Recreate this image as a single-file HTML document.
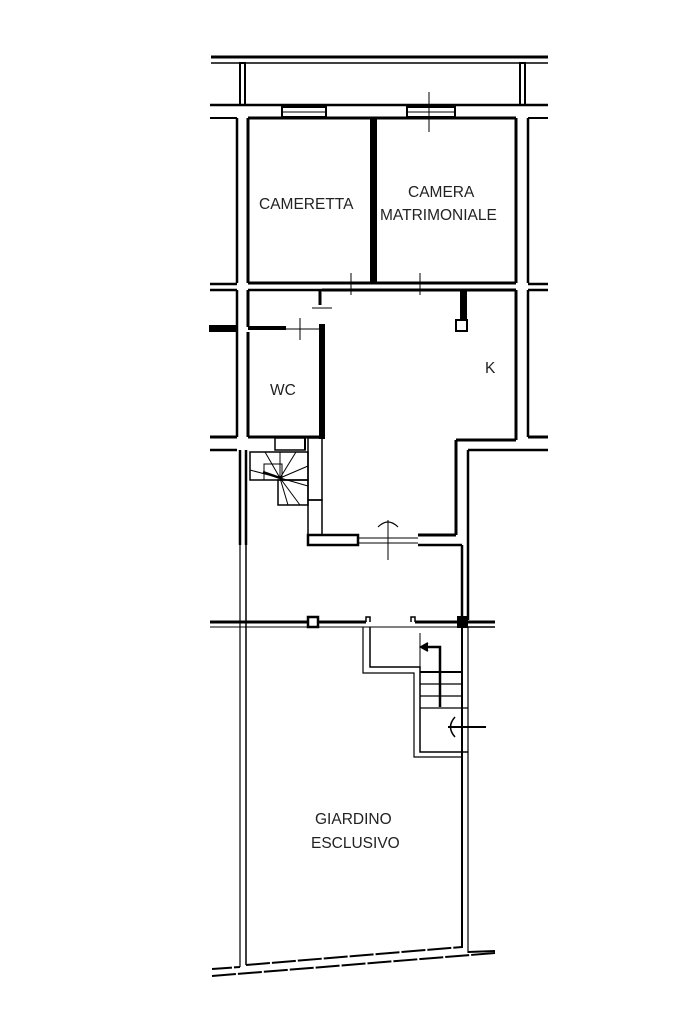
<!DOCTYPE html>
<html><head><meta charset="utf-8"><style>
html,body{margin:0;padding:0;background:#fff;width:683px;height:1023px;overflow:hidden}
svg{display:block}
text{font-family:"Liberation Sans",sans-serif;fill:#222;font-size:15.5px}
</style></head><body>
<svg width="683" height="1023" viewBox="0 0 683 1023" xmlns="http://www.w3.org/2000/svg">
<g stroke="#000" fill="none" stroke-width="2">
<line x1="211" y1="57" x2="548" y2="57" stroke-width="3"/>
<line x1="211" y1="63" x2="548" y2="63" stroke-width="1.5"/>
<rect x="240" y="63" width="5" height="42"/>
<rect x="520" y="63" width="5" height="42"/>
<line x1="210" y1="105" x2="548" y2="105" stroke-width="2.5"/>
<line x1="210" y1="118" x2="237" y2="118"/>
<line x1="248" y1="118" x2="516" y2="118" stroke-width="3"/>
<line x1="528" y1="118" x2="548" y2="118"/>
<rect x="282" y="107" width="44" height="10" fill="#fff"/>
<rect x="407" y="107" width="48" height="10" fill="#fff"/>
<line x1="282" y1="112" x2="326" y2="112" stroke-width="1"/>
<line x1="407" y1="112" x2="455" y2="112" stroke-width="1"/>
<line x1="429" y1="92" x2="429" y2="132" stroke-width="1"/>
<line x1="237" y1="118" x2="237" y2="283" stroke-width="2.5"/>
<line x1="248" y1="118" x2="248" y2="283" stroke-width="3"/>
<rect x="371" y="118" width="5" height="165" fill="#000"/>
<line x1="516" y1="118" x2="516" y2="283" stroke-width="3"/>
<line x1="528" y1="118" x2="528" y2="283" stroke-width="2.5"/>
<line x1="210" y1="284" x2="237" y2="284" stroke-width="2.5"/>
<line x1="210" y1="290" x2="237" y2="290" stroke-width="2.5"/>
<line x1="248" y1="283" x2="516" y2="283" stroke-width="3"/>
<line x1="248" y1="290" x2="322" y2="290" stroke-width="2.5"/>
<line x1="322" y1="290" x2="516" y2="290" stroke-width="3"/>
<line x1="528" y1="284" x2="548" y2="284" stroke-width="2.5"/>
<line x1="528" y1="290" x2="548" y2="290" stroke-width="2.5"/>
<line x1="351" y1="273" x2="351" y2="295" stroke-width="1"/>
<line x1="420" y1="273" x2="420" y2="295" stroke-width="1"/>
<line x1="237" y1="290" x2="237" y2="437" stroke-width="2.5"/>
<line x1="248" y1="290" x2="248" y2="327" stroke-width="3"/>
<line x1="320" y1="290" x2="320" y2="305" stroke-width="3"/>
<line x1="312" y1="308" x2="332" y2="308" stroke-width="1"/>
<rect x="320" y="325" width="4" height="113" fill="#000"/>
<rect x="210" y="326" width="27" height="5" fill="#000"/>
<line x1="248" y1="328" x2="286" y2="328" stroke-width="4"/>
<line x1="286" y1="329" x2="320" y2="329" stroke-width="1"/>
<line x1="300" y1="318" x2="300" y2="340" stroke-width="1"/>
<line x1="248" y1="332" x2="248" y2="437" stroke-width="3"/>
<line x1="210" y1="437" x2="237" y2="437" stroke-width="3"/>
<line x1="248" y1="437" x2="320" y2="437" stroke-width="3"/>
<line x1="210" y1="450" x2="237" y2="450" stroke-width="2.5"/>
<line x1="516" y1="290" x2="516" y2="440" stroke-width="3"/>
<line x1="456" y1="440" x2="516" y2="440" stroke-width="3"/>
<line x1="528" y1="290" x2="528" y2="437" stroke-width="2.5"/>
<line x1="528" y1="437" x2="548" y2="437" stroke-width="3"/>
<line x1="468" y1="450" x2="548" y2="450" stroke-width="2.5"/>
<line x1="456" y1="440" x2="456" y2="535" stroke-width="3"/>
<line x1="468" y1="450" x2="468" y2="620" stroke-width="2.5"/>
<rect x="461" y="290" width="5" height="30" fill="#000"/>
<rect x="456" y="320" width="11" height="11" fill="#fff"/>
<rect x="275" y="438" width="30" height="12" stroke-width="1.5"/>
<line x1="305" y1="438" x2="305" y2="450" stroke-width="2"/>
<rect x="250" y="452" width="58" height="28" stroke-width="1.5"/>
<rect x="278" y="480" width="30" height="25" stroke-width="1.5"/>
<rect x="264" y="464" width="18" height="16" stroke-width="1"/>
<g stroke-width="1">
<line x1="280" y1="478" x2="265" y2="452"/><line x1="280" y1="478" x2="280" y2="452"/><line x1="280" y1="478" x2="296" y2="452"/>
<line x1="280" y1="478" x2="308" y2="466"/><line x1="280" y1="478" x2="308" y2="486"/><line x1="280" y1="478" x2="300" y2="505"/>
<line x1="280" y1="478" x2="288" y2="505"/><line x1="280" y1="478" x2="250" y2="470"/>
</g>
<line x1="263" y1="472" x2="280" y2="478" stroke-width="2.5"/>
<rect x="308" y="438" width="14" height="62" stroke-width="1.5"/>
<rect x="308" y="500" width="14" height="35" stroke-width="1.5"/>
<line x1="240" y1="450" x2="240" y2="545" stroke-width="2.5"/>
<line x1="246" y1="450" x2="246" y2="545" stroke-width="2.5"/>
<line x1="240" y1="545" x2="240" y2="967" stroke-width="1.2"/>
<line x1="246" y1="545" x2="246" y2="965" stroke-width="1.5"/>
<rect x="308" y="535" width="50" height="10" stroke-width="2.5"/>
<line x1="358" y1="538" x2="418" y2="538" stroke-width="1"/>
<line x1="358" y1="543" x2="418" y2="543" stroke-width="1"/>
<line x1="418" y1="535" x2="456" y2="535" stroke-width="3"/>
<line x1="418" y1="545" x2="462" y2="545" stroke-width="2.5"/>
<line x1="462" y1="545" x2="462" y2="620" stroke-width="2.5"/>
<line x1="388" y1="520" x2="388" y2="560" stroke-width="1"/>
<path d="M378 527 Q388 517 398 527" stroke-width="1.2"/>
<line x1="210" y1="622" x2="366" y2="622" stroke-width="3"/>
<path d="M366 622 V617 H370 V622" stroke-width="1.5"/>
<path d="M411 622 V617 H415 V622" stroke-width="1.5"/>
<line x1="415" y1="622" x2="462" y2="622" stroke-width="3"/>
<line x1="462" y1="622" x2="495" y2="622" stroke-width="3"/>
<line x1="210" y1="627" x2="462" y2="627" stroke-width="1"/>
<line x1="468" y1="627" x2="495" y2="627" stroke-width="1.5"/>
<rect x="308" y="617" width="10" height="10" fill="#fff" stroke-width="2.5"/>
<rect x="458" y="617" width="9" height="10" fill="#000"/>
<line x1="462" y1="627" x2="462" y2="948" stroke-width="2"/>
<line x1="468" y1="627" x2="468" y2="953" stroke-width="1.2"/>
<path d="M363 627 V673 H414 V757 H462" stroke-width="1.2"/>
<path d="M370 627 V667 H420 V752 H468" stroke-width="1.5"/>
<line x1="420" y1="633" x2="420" y2="667" stroke-width="1"/>
<g stroke-width="1.2">
<line x1="420" y1="672" x2="462" y2="672" stroke-width="2"/>
<line x1="420" y1="684" x2="462" y2="684"/>
<line x1="420" y1="696" x2="462" y2="696"/>
<line x1="420" y1="708" x2="468" y2="708"/>
</g>
<path d="M440 707 V647 H422" stroke-width="2.5"/>
<path d="M428 643 L421 647 L428 651" stroke-width="2" fill="#000"/>
<line x1="448" y1="727" x2="486" y2="727" stroke-width="2"/>
<path d="M455 717 Q446 727 455 737" stroke-width="1.5"/>
<line x1="212" y1="969" x2="240" y2="967" stroke-width="2" stroke-dasharray="20 2"/>
<line x1="246" y1="965" x2="462" y2="947" stroke-width="2" stroke-dasharray="24 2"/>
<line x1="468" y1="952" x2="495" y2="951" stroke-width="2"/>
<line x1="212" y1="976" x2="495" y2="953" stroke-width="2" stroke-dasharray="24 2"/>
</g>
<text x="259" y="209">CAMERETTA</text>
<text x="408" y="197">CAMERA</text>
<text x="380" y="220">MATRIMONIALE</text>
<text x="270" y="395">WC</text>
<text x="485" y="373">K</text>
<text x="315" y="824">GIARDINO</text>
<text x="311" y="848">ESCLUSIVO</text>
</svg>
</body></html>
